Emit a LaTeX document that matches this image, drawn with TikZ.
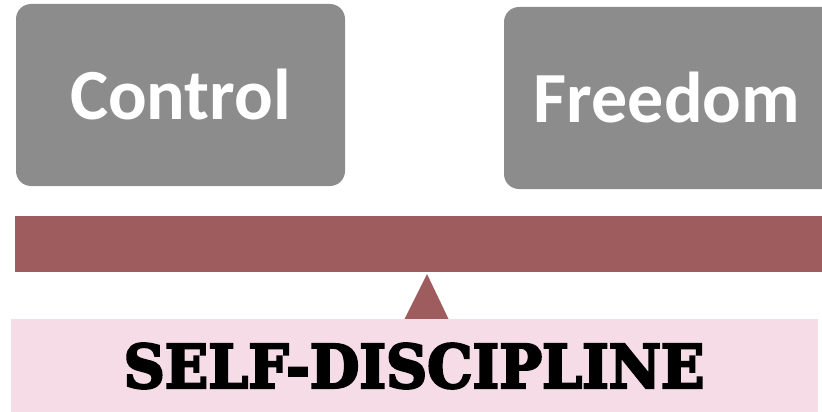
\documentclass[tikz,border=0pt]{standalone}
\usepackage{fontspec}
\setmainfont{Carlito}
\newfontfamily\heavyserif[FakeBold=4]{DejaVu Serif Bold}
\usetikzlibrary{shapes.geometric}
\definecolor{boxgray}{HTML}{8C8C8C}
\definecolor{barred}{HTML}{9E5C5E}
\definecolor{basepink}{HTML}{F5DCE7}
\begin{document}
\begin{tikzpicture}[x=1pt,y=-1pt,
  graybox/.style={fill=boxgray,rounded corners=15pt},
  boxtext/.style={text=white,font=\fontsize{72}{80}\selectfont\bfseries},
]
\useasboundingbox (0,0) rectangle (822,412);
\clip (0,0) rectangle (822,412);
\path[graybox] (16,4) rectangle (345,186);
\node[boxtext] (control) at (180.5,95) {Control};
\path[graybox] (504,7) rectangle (838,189);
\node[boxtext] (freedom) at (667,98) {Freedom};
\path[fill=barred] (15,216) rectangle (822,272);
\coordinate (bar) at (418,244);
\fill[barred] (404,320) -- (427,274) -- (449,320) -- cycle;
\coordinate (tri) at (427,300);
\fill[basepink] (11,319) rectangle (818,412);
\node[font=\heavyserif\fontsize{60}{66}\selectfont,xscale=0.95] (base) at (414,366) {SELF-DISCIPLINE};
\end{tikzpicture}
\end{document}
